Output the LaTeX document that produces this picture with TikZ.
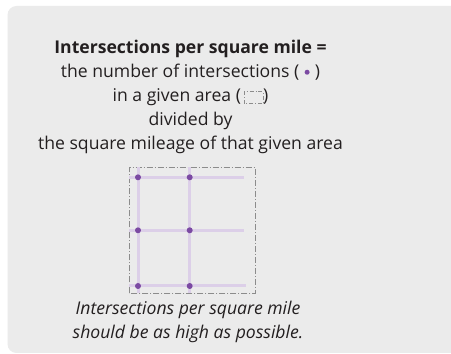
\documentclass[tikz,border=0pt]{standalone}
\usepackage{fontspec}
\setmainfont{Open Sans}
\usetikzlibrary{positioning}
\definecolor{panelgray}{HTML}{EBEBEB}
\definecolor{inkdark}{HTML}{231F20}
\definecolor{dotpurple}{HTML}{7B4AA2}
\definecolor{streetpurple}{HTML}{DCCFE8}
\definecolor{areagray}{HTML}{8C8C8C}
\tikzset{
	bodytext/.style={font=\fontsize{17.6}{20}\selectfont, text=inkdark, inner sep=0pt, anchor=base}
}
\tikzset{
	arealine/.style={draw=areagray, line width=0.8pt, dash pattern=on 6pt off 2pt on 1pt off 2pt}
}

\begin{document}
\begin{tikzpicture}[x=1pt,y=1pt]

              \tikzset{
                crossdot/.style={
                    shape=circle,
                    fill=dotpurple,
                    minimum size=6pt,
                    inner sep=0pt
                  },
                street/.style={
                    draw=streetpurple,
                    line width=3pt
                  }
              }

              \useasboundingbox (0,0) rectangle (451,354);
              \clip (0,0) rectangle (451,354);
              \fill[white] (0,0) rectangle (451,354);
              \fill[panelgray, rounded corners=9pt] (7.5,1) rectangle (480,348);

              % definition text
              \node[bodytext] (title) at (190.5,300.5) {\bfseries Intersections per square mile =};
              \node[bodytext] (count) at (190.5,276.5) {the number of intersections (\hspace{0.3em}\tikz[baseline]\fill[dotpurple] (0,0.3em) circle (2.5pt);\hspace{0.3em})};
              \node[bodytext] (area) at (190.5,252.3) {in a given area (\hspace{0.15em}\tikz[baseline]\draw[areagray, line width=0.6pt, dash pattern=on 4pt off 2pt on 0.8pt off 2pt] (0,-2pt) rectangle (19pt,10pt);)};
              \node[bodytext] (divby) at (190.5,228.2) {divided by};
              \node[bodytext] (mileage) at (190.5,204) {the square mileage of that given area};

              % the given area
              \draw[arealine] (129.3,60.7) rectangle (255,186.5);
              \foreach \x in {138,189.7}
                \draw[street] (\x,186.5) -- (\x,60.7);
              \foreach \y/\e in {176.7/244,123.7/244,68/246}
                \draw[street] (129.3,\y) -- (\e,\y);
              \foreach \x [count=\i] in {138,189.7}
                \foreach \y [count=\j] in {176.7,123.7,68}
                  \node[crossdot] (d\i\j) at (\x,\y) {};

              % conclusion
              \node[bodytext, font=\fontsize{17.6}{20}\selectfont\itshape] (goal1) at (188,39.7) {Intersections per square mile};
              \node[bodytext, font=\fontsize{17.6}{20}\selectfont\itshape] (goal2) at (188,15.7) {should be as high as possible.};

            \end{tikzpicture}
\end{document}
